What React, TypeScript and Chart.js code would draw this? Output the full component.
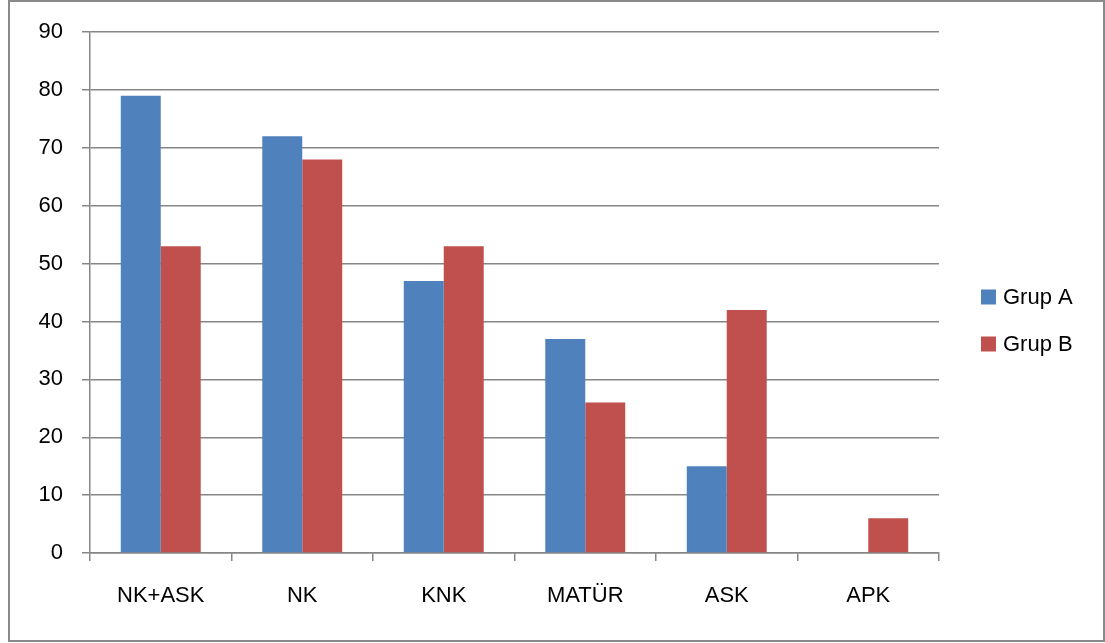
import React, { useEffect, useRef } from "react";
import { Chart, registerables } from "chart.js";

Chart.register(...registerables);

const categories = ["NK+ASK", "NK", "KNK", "MATÜR", "ASK", "APK"];
const grupA = [79, 72, 47, 37, 15, 0];
const grupB = [53, 68, 53, 26, 42, 6];
const seriesNames = ["Grup A", "Grup B"];
const seriesColors = ["#4F81BD", "#C0504D"];

const FONT = "'Liberation Sans', Arial, sans-serif";
const GRID = "#868686";

const legendPlugin = {
  id: "customLegend",
  afterDraw(chart: any) {
    const ctx = chart.ctx;
    const x = chart.chartArea.right + 42;
    const y0 = 297;
    const gap = 47;
    ctx.save();
    chart.data.datasets.forEach((ds: any, i: number) => {
      const cy = y0 + i * gap;
      ctx.fillStyle = ds.backgroundColor;
      ctx.fillRect(x, cy - 7.5, 15, 15);
      ctx.fillStyle = "#000";
      ctx.font = `22px ${FONT}`;
      ctx.textBaseline = "middle";
      ctx.textAlign = "left";
      ctx.fillText(ds.label, x + 22, cy + 1);
    });
    ctx.restore();
  },
};

export default function App() {
  const ref = useRef<HTMLCanvasElement>(null);
  useEffect(() => {
    const chart = new Chart(ref.current!, {
      type: "bar",
      data: {
        labels: categories,
        datasets: [
          { label: seriesNames[0], data: grupA, backgroundColor: seriesColors[0] },
          { label: seriesNames[1], data: grupB, backgroundColor: seriesColors[1] },
        ],
      },
      options: {
        animation: false,
        responsive: false,
        layout: { padding: { left: 0, top: 28, right: 166, bottom: 0 } },
        datasets: { bar: { categoryPercentage: 0.565, barPercentage: 1 } },
        plugins: { legend: { display: false }, tooltip: { enabled: false } },
        scales: {
          x: {
            afterFit: (s: any) => { s.height = 90; },
            grid: { offset: true, drawOnChartArea: false, color: GRID, tickLength: 8, lineWidth: 1.5 },
            border: { color: GRID, width: 1.5 },
            ticks: { color: "#000", font: { family: FONT, size: 22 }, padding: 22, maxRotation: 0 },
          },
          y: {
            min: 0,
            max: 90,
            afterFit: (s: any) => { s.width = 90; },
            grid: { color: GRID, tickLength: 8, lineWidth: 1.5 },
            border: { color: GRID, width: 1.5 },
            ticks: { stepSize: 10, color: "#000", font: { family: FONT, size: 22 }, padding: 19 },
          },
        },
      },
      plugins: [legendPlugin],
    });
    return () => chart.destroy();
  }, []);
  return (
    <div>
      <canvas
        ref={ref}
        width={1105}
        height={643}
        style={{ position: "fixed", left: 0, top: 0, width: 1105, height: 643 }}
      />
      <div
        style={{
          position: "fixed",
          left: 8,
          top: 0,
          width: 1097,
          height: 642,
          border: "2px solid #8a8a8a",
          boxSizing: "border-box",
          pointerEvents: "none",
        }}
      />
    </div>
  );
}
